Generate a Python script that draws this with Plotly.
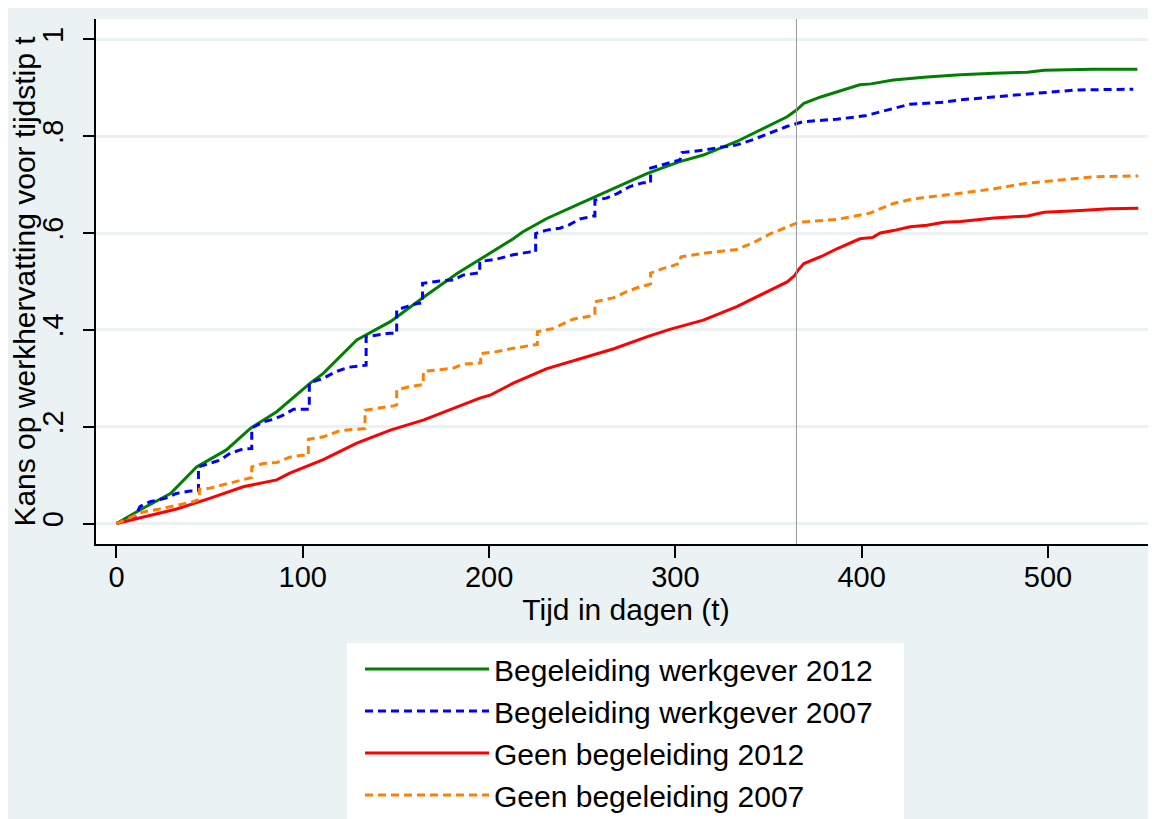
import plotly.graph_objects as go

# ---- data ----
t_werkgever_2012 = [0, 14, 29, 43, 59, 72, 86, 104, 111, 129, 147, 165, 183, 200, 213, 218, 231, 249,
                    267, 285, 302, 315, 333, 351, 360, 365, 369, 378, 387, 399, 405, 417, 435, 453,
                    471, 489, 498, 524, 548]
y_werkgever_2012 = [0, .031, .062, .117, .152, .197, .231, .290, .310, .379, .417, .468, .517, .558,
                    .588, .602, .630, .661, .692, .723, .747, .761, .789, .824, .840, .854, .868, .881,
                    .892, .906, .908, .916, .922, .927, .930, .932, .936, .938, .938]

t_werkgever_2007 = [0, 10, 12.6, 18, 26, 32, 39.5, 44, 44, 50, 55.6, 61, 68, 72.6, 72.6, 78.8, 84, 89.5,
                    95, 103.5, 103.5, 111, 118, 125, 132.5, 134, 134, 139.7, 146.8, 150.4, 150.4, 155.8,
                    162, 164.3, 164.3, 173.6, 180.8, 186, 193, 195, 195, 200.5, 204, 213, 222, 225, 225,
                    231, 238, 242.5, 248.8, 256, 256.8, 256.8, 263, 268.5, 275.6, 282.8, 286.7, 286.7,
                    295.3, 302.5, 303.5, 315, 324, 333, 341.8, 350.8, 359.7, 368.7, 386.6, 401.7, 417,
                    426, 443.8, 452.8, 470.7, 479.6, 488.6, 497.5, 513.6, 524.3, 545.8]
y_werkgever_2007 = [0, .015, .035, .045, .052, .062, .067, .067, .117, .124, .131, .145, .154, .155, .197,
                    .210, .215, .224, .236, .236, .290, .300, .314, .323, .327, .327, .386, .389, .393,
                    .393, .441, .448, .455, .455, .496, .501, .503, .513, .518, .518, .541, .544, .546,
                    .555, .561, .561, .599, .606, .610, .616, .629, .635, .635, .668, .672, .681, .696,
                    .704, .704, .734, .744, .751, .766, .771, .777, .782, .793, .806, .820, .830, .835,
                    .842, .857, .866, .870, .875, .881, .884, .887, .890, .895, .896, .897]

t_geen_2012 = [0, 14.4, 32.3, 50, 68, 86, 93, 104, 111, 129, 147, 165, 183, 195, 200.5, 213, 231, 249,
               267, 285, 297, 315, 333, 351, 360, 364, 366, 369, 378, 387, 396, 399, 406, 410, 417, 426, 435,
               444, 453, 471, 489, 498, 515, 533, 548.5]
y_geen_2012 = [0, .014, .030, .052, .076, .090, .104, .121, .132, .166, .193, .214, .241, .259, .265,
               .290, .320, .341, .361, .386, .401, .420, .448, .482, .499, .512, .524, .537, .551, .568, .582,
               .588, .591, .600, .605, .613, .616, .622, .624, .631, .635, .643, .646, .650, .651]

t_geen_2007 = [0, 14.4, 23.3, 32, 41, 44.5, 44.5, 50, 57, 64.5, 70, 72.6, 72.6, 78.8, 86, 93, 99.4, 103,
               103, 111, 120, 129, 133.4, 133.4, 141.4, 148.6, 150.4, 150.4, 157.5, 163, 164.7, 164.7,
               173.6, 180.8, 186, 192.4, 195.5, 195.5, 200.5, 204, 213, 222, 225.9, 225.9, 234.5, 245,
               252.4, 256.8, 256.8, 266.7, 273.9, 281, 285.5, 286.7, 286.7, 293.5, 297, 302, 303,
               315, 333, 341.8, 350.8, 359.7, 366, 386.6, 399, 404.5, 408, 417, 426, 435, 452.8, 470.7,
               488.6, 506.4, 524.3, 548.5]
y_geen_2007 = [0, .024, .030, .037, .045, .050, .071, .073, .080, .086, .093, .095, .117, .124, .126,
               .137, .141, .141, .174, .179, .192, .195, .196, .234, .238, .243, .245, .276, .283, .286,
               .287, .314, .318, .321, .329, .331, .332, .351, .353, .355, .362, .367, .370, .396, .403,
               .422, .427, .430, .458, .466, .479, .489, .493, .495, .517, .527, .530, .537, .551, .558,
               .566, .580, .598, .613, .622, .628, .637, .641, .647, .661, .669, .674, .682, .691, .703,
               .709, .716, .718]

series_names = ["Begeleiding werkgever 2012", "Begeleiding werkgever 2007",
                "Geen begeleiding 2012", "Geen begeleiding 2007"]
x_ticks = [0, 100, 200, 300, 400, 500]
y_ticks = [0, 0.2, 0.4, 0.6, 0.8, 1]
y_tick_labels = ["0", ".2", ".4", ".6", ".8", "1"]
reference_day = 365

FONT = "Liberation Sans, Arial, sans-serif"
BG = "#EAF2F3"

# layout geometry (figure pixels; the page adds an 8px body margin)
W, H = 1148, 811
L, R, T, B = 88, 0, 11, 275
PW, PH = W - L - R, H - T - B


def px_x(p):
    return (p - L) / PW


def px_y(p):
    return (H - B - p) / PH


fig = go.Figure()
styles = [
    (t_werkgever_2012, y_werkgever_2012, "#008000", "solid"),
    (t_werkgever_2007, y_werkgever_2007, "#0000FF", "8px,5px"),
    (t_geen_2012, y_geen_2012, "#FF0000", "solid"),
    (t_geen_2007, y_geen_2007, "#FF8000", "8px,5px"),
]
for name, (tx, ty, col, dash) in zip(series_names, styles):
    fig.add_trace(go.Scatter(x=tx, y=ty, mode="lines", name=name,
                             line=dict(color=col, width=3, dash=dash)))

fig.add_shape(type="line", xref="x", yref="paper", x0=reference_day, x1=reference_day, y0=0, y1=1,
              line=dict(color="#999999", width=1))
# legend box (white panel)
fig.add_shape(type="rect", xref="paper", yref="paper", x0=px_x(339), x1=px_x(896), y0=px_y(H + 5), y1=px_y(635),
              line=dict(width=0), fillcolor="white", layer="above")

fig.update_layout(
    width=W, height=H,
    margin=dict(l=L, r=R, t=T, b=B, autoexpand=False),
    paper_bgcolor=BG, plot_bgcolor="white",
    font=dict(family=FONT, size=29, color="black"),
    showlegend=True,
    legend=dict(x=px_x(352), y=px_y(635), xanchor="left", yanchor="top", bgcolor="rgba(0,0,0,0)",
                font=dict(family=FONT, size=30, color="black"), itemwidth=124,
                tracegroupgap=0, borderwidth=0),
    xaxis=dict(range=[-11.0, 558.0], tickvals=x_ticks, ticks="outside", ticklen=12, tickwidth=2,
               tickcolor="black", showline=True, linecolor="black", linewidth=2, showgrid=False,
               zeroline=False, tickfont=dict(size=29), automargin=False, ticklabelstandoff=-6,
               title=dict(text="Tijd in dagen (t)", font=dict(size=30), standoff=0)),
    yaxis=dict(range=[-0.0423, 1.042], tickvals=y_ticks, ticktext=y_tick_labels, tickangle=-90,
               ticks="outside", ticklen=11, tickwidth=2, tickcolor="black", showline=True,
               linecolor="black", linewidth=2, showgrid=True, gridcolor=BG, gridwidth=3,
               zeroline=False, tickfont=dict(size=29), automargin=False, ticklabelstandoff=8,
               title=dict(text="Kans op werkhervatting voor tijdstip t", font=dict(size=30), standoff=0)),
)
fig.write_html("out.html")
